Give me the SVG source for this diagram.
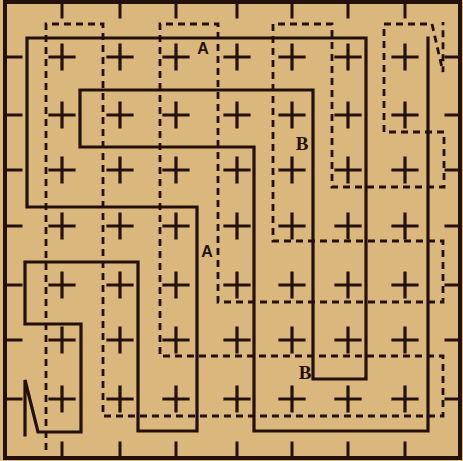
<svg xmlns="http://www.w3.org/2000/svg" width="463" height="461" viewBox="0 0 463 461">
<style>
.ink{stroke:#24100a;fill:none;stroke-linecap:square;stroke-linejoin:miter}
.frame{stroke-width:4}
.tick{stroke-width:3}
.cross{stroke-width:3.2}
.solid{stroke-width:3.2}
.dash{stroke-width:2.8;stroke-dasharray:7 5;stroke-linecap:butt}
.lbl{font-family:"Liberation Serif","DejaVu Serif",serif;font-size:19px;fill:#24100a;text-anchor:middle}
</style>
<defs>
<path id="cr" d="M-12 0H12M0 -12V12"/>
</defs>
<rect width="463" height="461" fill="#dab77c"/>
<g id="frame" class="ink">
<rect class="frame" x="5" y="2" width="455" height="456"/>
<path class="frame" d="M5 2V458"/>
<path class="tick" d="M62 2V17M120 2V17M176 2V17M237 2V17M292 2V17M348 2V17M405 2V17"/>
<path class="tick" d="M62 443V458M120 443V458M176 443V458M237 443V458M292 443V458M348 443V458M405 443V458"/>
<path class="tick" d="M5 57H21M5 115H21M5 170H21M5 226H21M5 285H21M5 340H21M5 399H21"/>
<path class="tick" d="M446 57H460M446 115H460M446 170H460M446 226H460M446 285H460M446 340H460M446 399H460"/>
</g>
<g id="crosses" class="ink cross">
<use href="#cr" x="62" y="57"/><use href="#cr" x="120" y="57"/><use href="#cr" x="176" y="57"/><use href="#cr" x="237" y="57"/><use href="#cr" x="292" y="57"/><use href="#cr" x="348" y="57"/><use href="#cr" x="405" y="57"/>
<use href="#cr" x="62" y="115"/><use href="#cr" x="120" y="115"/><use href="#cr" x="176" y="115"/><use href="#cr" x="237" y="115"/><use href="#cr" x="292" y="115"/><use href="#cr" x="348" y="115"/><use href="#cr" x="405" y="115"/>
<use href="#cr" x="62" y="170"/><use href="#cr" x="120" y="170"/><use href="#cr" x="176" y="170"/><use href="#cr" x="237" y="170"/><use href="#cr" x="292" y="170"/><use href="#cr" x="348" y="170"/><use href="#cr" x="405" y="170"/>
<use href="#cr" x="62" y="226"/><use href="#cr" x="120" y="226"/><use href="#cr" x="176" y="226"/><use href="#cr" x="237" y="226"/><use href="#cr" x="292" y="226"/><use href="#cr" x="348" y="226"/><use href="#cr" x="405" y="226"/>
<use href="#cr" x="62" y="285"/><use href="#cr" x="120" y="285"/><use href="#cr" x="176" y="285"/><use href="#cr" x="237" y="285"/><use href="#cr" x="292" y="285"/><use href="#cr" x="348" y="285"/><use href="#cr" x="405" y="285"/>
<use href="#cr" x="62" y="340"/><use href="#cr" x="120" y="340"/><use href="#cr" x="176" y="340"/><use href="#cr" x="237" y="340"/><use href="#cr" x="292" y="340"/><use href="#cr" x="348" y="340"/><use href="#cr" x="405" y="340"/>
<use href="#cr" x="62" y="399"/><use href="#cr" x="120" y="399"/><use href="#cr" x="176" y="399"/><use href="#cr" x="237" y="399"/><use href="#cr" x="292" y="399"/><use href="#cr" x="348" y="399"/><use href="#cr" x="405" y="399"/>
</g>
<g id="connectors" class="ink">
<path id="path-solid" class="solid" d="M25 435V380L38 432H81V324H25V262H138V431H197V207H27V38H366V379H313V90H80V147H254V431H428V38"/>
<path id="path-dashed" class="dash" d="M46 450V24H103V416H443V356H160V24H218V302H443V241H273V24H332V187H444V132H384V24H432L443 72V22"/>
</g>
<g id="labels">
<text class="lbl" x="203" y="54" font-weight="bold" style="font-family:'Liberation Sans',sans-serif;font-size:16px">A</text>
<text class="lbl" x="207" y="257" font-weight="bold" style="font-family:'Liberation Sans',sans-serif;font-size:16px">A</text>
<text class="lbl" x="302" y="150" font-weight="bold">B</text>
<text class="lbl" x="305" y="379" font-weight="bold">B</text>
</g>
</svg>
